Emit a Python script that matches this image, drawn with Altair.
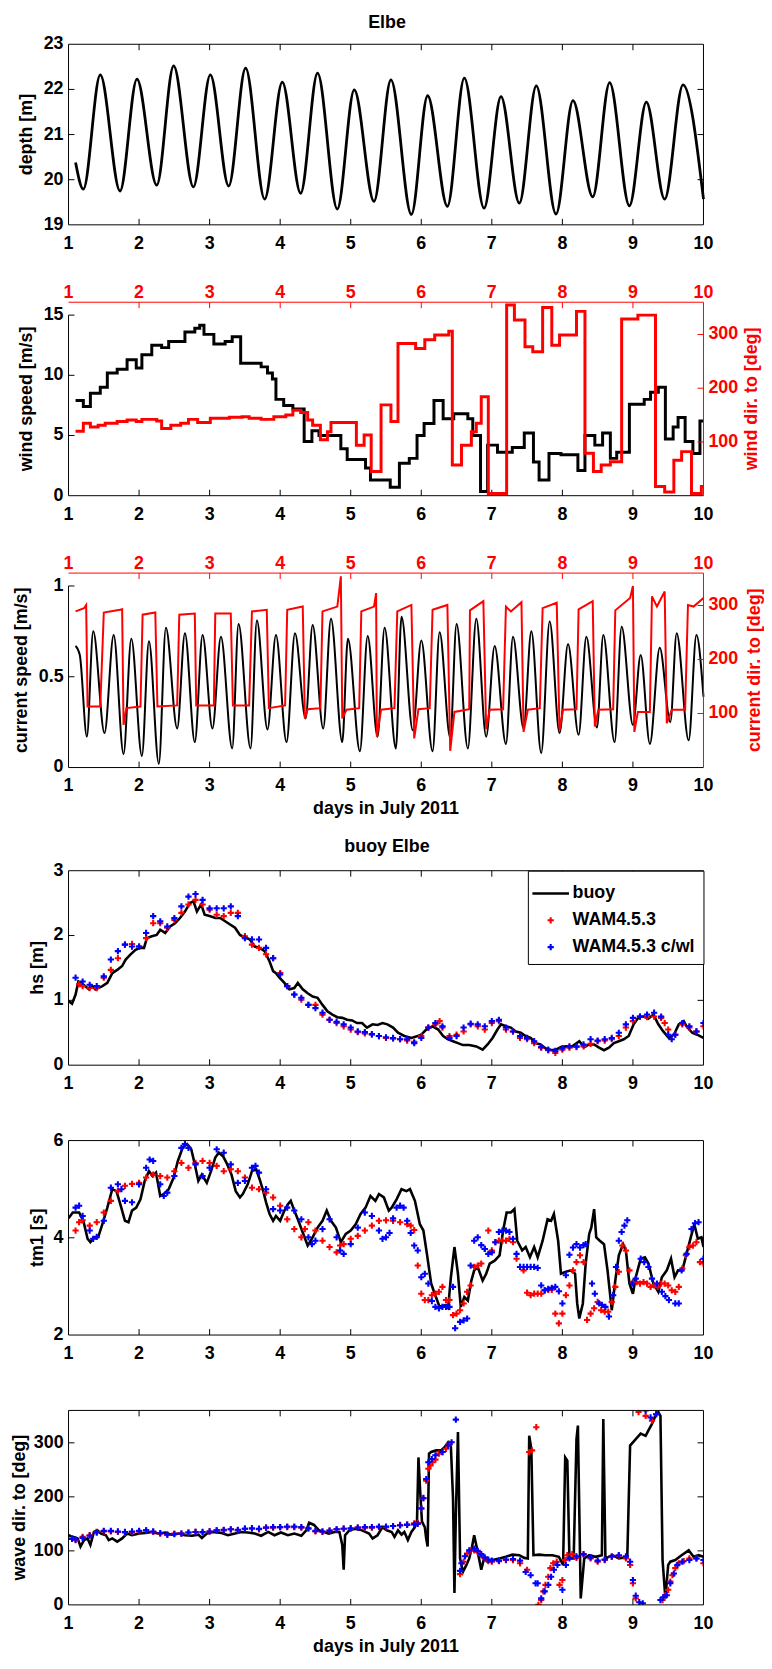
import altair as alt
import pandas as pd

# ---------------- data ----------------
depth_t = [1.10,1.21,1.45,1.73,1.97,2.25,2.49,2.77,3.01,3.27,3.51,3.78,4.03,4.29,4.53,4.81,5.05,5.33,5.57,5.86,
           6.09,6.37,6.61,6.89,7.13,7.39,7.63,7.91,8.15,8.43,8.67,8.95,9.19,9.45,9.71,10.0]
depth_v = [20.38,19.79,22.32,19.75,22.23,19.88,22.52,19.84,22.32,19.86,22.47,19.57,22.16,19.70,22.36,19.35,21.99,19.52,22.21,19.23,
           21.86,19.41,22.25,19.37,21.84,19.48,22.08,19.24,21.75,19.62,22.15,19.42,21.72,19.57,22.10,19.57]

ws_t = [1.10,1.21,1.31,1.45,1.55,1.69,1.83,1.96,2.04,2.18,2.32,2.42,2.65,2.79,2.86,2.92,3.06,3.22,3.32,3.44,
        3.73,3.82,3.89,3.94,4.05,4.18,4.34,4.45,4.55,4.86,4.95,5.21,5.28,5.56,5.69,5.83,5.94,6.04,6.18,6.31,
        6.46,6.66,6.73,6.84,6.94,7.08,7.29,7.46,7.59,7.67,7.81,7.98,8.22,8.32,8.46,8.57,8.68,8.77,8.95,9.16,
        9.25,9.36,9.46,9.57,9.64,9.74,9.85,9.95,10.0]
ws_v = [7.9,7.4,8.5,9.0,10.2,10.5,11.3,10.6,11.7,12.5,12.3,12.8,13.6,13.9,14.15,13.4,12.6,12.8,13.2,11.0,
        10.7,10.2,9.7,8.0,7.5,7.2,4.5,5.4,5.0,3.9,3.0,2.3,1.3,0.7,2.7,3.1,5.0,6.0,7.9,6.4,
        6.8,6.4,5.0,0.35,4.2,3.6,4.0,5.2,2.8,1.3,3.5,3.4,2.1,5.0,4.2,5.2,3.1,3.6,7.6,8.0,
        8.6,9.0,4.7,5.7,6.5,4.5,3.5,6.2,6.2]

wd_t = [1.10,1.21,1.31,1.42,1.52,1.69,1.83,1.96,2.04,2.25,2.32,2.45,2.59,2.70,2.83,3.01,3.28,3.46,3.56,3.73,
        3.91,4.08,4.18,4.29,4.39,4.46,4.57,4.67,4.72,5.08,5.19,5.29,5.43,5.57,5.67,5.92,6.05,6.19,6.39,6.44,
        6.57,6.71,6.78,6.85,6.95,7.21,7.32,7.47,7.58,7.72,7.85,7.96,8.20,8.32,8.44,8.55,8.68,8.84,9.07,9.32,
        9.45,9.58,9.69,9.83,9.97,10.0]
wd_v = [120,135,128,131,135,138,141,138,142,139,125,131,135,142,136,144,146,147,144,142,
        147,150,159,155,141,131,104,119,136,94,113,45,169,138,283,274,290,299,306,57,
        94,119,135,184,4,355,327,277,268,350,280,299,343,79,45,57,63,329,336,17,
        7,66,82,4,17,17]

cs_t = [1.10,1.16,1.26,1.35,1.51,1.64,1.78,1.89,2.04,2.14,2.28,2.38,2.54,2.65,2.79,2.90,3.04,3.16,3.32,3.41,
        3.58,3.67,3.82,3.94,4.09,4.21,4.36,4.46,4.61,4.72,4.88,4.96,5.13,5.24,5.38,5.48,5.64,5.72,5.88,6.00,
        6.16,6.26,6.41,6.50,6.66,6.78,6.92,7.04,7.20,7.30,7.45,7.56,7.70,7.82,7.96,8.08,8.23,8.34,8.49,8.58,
        8.74,8.84,9.00,9.11,9.24,9.38,9.53,9.62,9.79,9.90,10.0]
cs_v = [0.67,0.62,0.17,0.75,0.19,0.73,0.075,0.71,0.064,0.695,0.02,0.77,0.215,0.74,0.14,0.73,0.215,0.72,0.105,0.79,
        0.105,0.81,0.21,0.73,0.14,0.74,0.27,0.785,0.215,0.82,0.14,0.71,0.09,0.725,0.17,0.77,0.105,0.83,0.205,0.70,
        0.09,0.745,0.165,0.79,0.105,0.82,0.17,0.67,0.13,0.72,0.215,0.75,0.08,0.805,0.19,0.68,0.18,0.72,0.22,0.73,
        0.14,0.775,0.235,0.62,0.13,0.66,0.25,0.74,0.15,0.73,0.39]

cd_t = [1.10,1.22,1.25,1.27,1.45,1.50,1.73,1.76,1.78,1.82,2.02,2.05,2.23,2.26,2.54,2.57,2.79,2.81,3.06,3.08,
        3.30,3.33,3.56,3.60,3.81,3.84,4.07,4.10,4.32,4.35,4.39,4.57,4.60,4.81,4.86,4.88,4.94,5.12,5.15,5.33,
        5.36,5.37,5.43,5.62,5.66,5.86,5.90,5.96,6.12,6.16,6.37,6.41,6.47,6.68,6.69,6.88,6.92,6.97,7.16,7.20,
        7.27,7.42,7.45,7.51,7.68,7.72,7.92,7.96,8.01,8.20,8.23,8.43,8.46,8.51,8.72,8.75,8.96,9.00,9.02,9.07,
        9.24,9.27,9.34,9.45,9.48,9.55,9.74,9.78,9.86,10.0]
cd_v = [289,295,301,113,113,287,292,293,79,110,113,283,287,113,115,283,285,115,115,285,
        285,115,115,289,292,110,115,292,298,91,108,110,289,298,354,91,107,110,289,298,
        323,57,107,110,289,301,54,108,110,292,301,31,103,108,291,308,71,107,108,298,
        289,306,66,107,110,295,305,69,107,108,293,308,76,107,108,291,314,336,66,103,
        103,317,298,326,82,107,107,301,298,314]

hb_t = [1.00,1.05,1.10,1.14,1.20,1.29,1.34,1.38,1.48,1.55,1.62,1.69,1.76,1.81,1.88,1.95,2.02,2.07,2.11,2.18,
        2.25,2.30,2.37,2.44,2.51,2.58,2.65,2.72,2.77,2.82,2.88,2.93,3.00,3.08,3.15,3.22,3.29,3.36,3.43,3.50,
        3.57,3.64,3.71,3.78,3.85,3.90,3.94,3.99,4.06,4.13,4.20,4.25,4.32,4.39,4.46,4.53,4.60,4.67,4.74,4.81,
        4.88,4.95,5.02,5.09,5.16,5.23,5.31,5.38,5.45,5.52,5.60,5.67,5.76,5.86,5.95,6.00,6.07,6.16,6.24,6.31,
        6.38,6.45,6.52,6.59,6.68,6.78,6.87,6.94,7.01,7.08,7.13,7.20,7.27,7.34,7.41,7.48,7.55,7.62,7.69,7.76,
        7.84,7.91,7.98,8.05,8.14,8.24,8.31,8.38,8.45,8.52,8.59,8.66,8.73,8.80,8.87,8.94,9.01,9.08,9.15,9.22,
        9.29,9.36,9.43,9.51,9.58,9.65,9.72,9.76,9.84,9.91,10.0]
hb_v = [0.99,0.95,1.09,1.29,1.25,1.17,1.22,1.17,1.22,1.27,1.42,1.47,1.53,1.63,1.71,1.78,1.81,1.81,1.96,1.99,
        2.01,2.09,2.04,2.14,2.19,2.27,2.37,2.50,2.53,2.37,2.48,2.32,2.30,2.27,2.27,2.22,2.17,2.12,2.01,1.97,
        1.94,1.83,1.81,1.76,1.60,1.45,1.42,1.35,1.27,1.17,1.19,1.27,1.17,1.11,1.06,1.04,0.93,0.83,0.78,0.74,
        0.73,0.70,0.69,0.65,0.65,0.58,0.63,0.62,0.65,0.63,0.58,0.50,0.45,0.42,0.45,0.47,0.55,0.60,0.55,0.45,
        0.40,0.37,0.34,0.31,0.31,0.29,0.24,0.32,0.42,0.55,0.63,0.60,0.58,0.52,0.50,0.45,0.42,0.34,0.32,0.26,
        0.23,0.24,0.28,0.29,0.29,0.37,0.28,0.32,0.32,0.27,0.23,0.27,0.34,0.37,0.40,0.45,0.63,0.74,0.75,0.72,
        0.78,0.63,0.52,0.42,0.47,0.63,0.68,0.60,0.50,0.47,0.42]

hr_t = [1.15,1.20,1.30,1.40,1.50,1.60,1.70,1.80,1.90,2.00,2.10,2.20,2.30,2.40,2.50,2.60,2.70,2.80,2.90,3.00,
        3.10,3.20,3.30,3.40,3.50,3.60,3.70,3.80,3.90,4.00,4.10,4.20,4.30,4.40,4.50,4.60,4.70,4.80,4.90,5.00,
        5.10,5.20,5.30,5.40,5.50,5.60,5.70,5.80,5.90,6.00,6.10,6.20,6.26,6.30,6.40,6.50,6.60,6.70,6.80,6.90,
        7.00,7.10,7.20,7.30,7.40,7.50,7.60,7.70,7.80,7.90,8.00,8.10,8.20,8.30,8.40,8.50,8.60,8.70,8.80,8.90,
        9.00,9.10,9.20,9.30,9.40,9.45,9.50,9.60,9.70,9.80,9.90,10.0]
hr_v = [1.25,1.22,1.19,1.19,1.35,1.47,1.65,1.86,1.87,1.83,1.96,2.19,2.19,2.12,2.24,2.35,2.48,2.55,2.48,2.40,
        2.32,2.30,2.35,2.35,1.99,1.86,1.81,1.71,1.65,1.42,1.22,1.09,1.01,0.93,0.93,0.78,0.70,0.65,0.60,0.55,
        0.51,0.49,0.47,0.45,0.42,0.41,0.40,0.38,0.36,0.45,0.58,0.63,0.68,0.58,0.45,0.47,0.52,0.63,0.60,0.55,
        0.65,0.68,0.55,0.52,0.42,0.40,0.34,0.27,0.23,0.19,0.24,0.27,0.28,0.29,0.33,0.37,0.38,0.40,0.45,0.58,
        0.68,0.75,0.74,0.75,0.73,0.65,0.55,0.47,0.63,0.58,0.52,0.60]

hc_t = [1.10,1.20,1.30,1.40,1.50,1.60,1.70,1.80,1.90,2.00,2.10,2.20,2.30,2.40,2.50,2.60,2.70,2.80,2.90,3.00,
        3.10,3.20,3.30,3.40,3.50,3.60,3.70,3.80,3.90,4.00,4.10,4.20,4.30,4.40,4.50,4.60,4.70,4.80,4.90,5.00,
        5.10,5.20,5.30,5.40,5.50,5.60,5.70,5.80,5.90,6.00,6.10,6.20,6.30,6.40,6.50,6.60,6.70,6.80,6.90,7.00,
        7.10,7.20,7.30,7.40,7.50,7.60,7.70,7.80,7.90,8.00,8.10,8.20,8.30,8.40,8.50,8.60,8.70,8.80,8.90,9.00,
        9.10,9.20,9.30,9.40,9.50,9.55,9.60,9.70,9.80,9.90,10.0]
hc_v = [1.35,1.29,1.24,1.22,1.37,1.63,1.76,1.86,1.83,1.83,2.04,2.30,2.22,2.14,2.27,2.45,2.60,2.64,2.55,2.42,
        2.42,2.42,2.45,2.30,1.96,1.94,1.94,1.81,1.65,1.40,1.22,1.09,1.04,0.93,0.88,0.81,0.70,0.67,0.63,0.58,
        0.52,0.51,0.48,0.45,0.43,0.42,0.40,0.40,0.34,0.42,0.58,0.65,0.60,0.42,0.45,0.58,0.64,0.63,0.60,0.68,
        0.70,0.58,0.52,0.45,0.42,0.37,0.28,0.24,0.22,0.26,0.29,0.29,0.32,0.40,0.38,0.40,0.42,0.50,0.63,0.73,
        0.75,0.78,0.81,0.75,0.47,0.40,0.47,0.65,0.60,0.52,0.65]

tb_t = [1.00,1.06,1.15,1.21,1.27,1.31,1.36,1.42,1.48,1.55,1.62,1.68,1.74,1.80,1.85,1.90,1.96,2.02,2.08,2.14,
        2.19,2.24,2.30,2.35,2.42,2.49,2.55,2.62,2.68,2.74,2.79,2.84,2.89,2.96,3.02,3.08,3.13,3.19,3.25,3.31,
        3.37,3.43,3.47,3.54,3.60,3.66,3.71,3.76,3.80,3.85,3.90,3.94,4.00,4.06,4.11,4.15,4.20,4.25,4.32,4.39,
        4.46,4.53,4.60,4.66,4.72,4.79,4.86,4.93,5.00,5.07,5.14,5.21,5.28,5.35,5.40,5.47,5.54,5.58,5.65,5.72,
        5.79,5.84,5.91,5.98,6.03,6.08,6.14,6.19,6.26,6.33,6.38,6.42,6.47,6.52,6.56,6.61,6.66,6.71,6.75,6.80,
        6.87,6.92,6.97,7.04,7.11,7.16,7.21,7.27,7.32,7.36,7.43,7.48,7.54,7.60,7.65,7.72,7.79,7.84,7.88,7.94,
        7.98,8.05,8.12,8.18,8.21,8.24,8.29,8.33,8.38,8.41,8.45,8.48,8.53,8.59,8.64,8.70,8.75,8.80,8.86,8.90,
        8.95,9.00,9.04,9.11,9.17,9.22,9.29,9.36,9.41,9.48,9.54,9.59,9.64,9.70,9.76,9.82,9.87,9.92,9.97,10.0]
tb_v = [4.40,4.52,4.52,4.35,3.98,3.91,4.01,4.01,4.28,4.62,5.00,4.96,4.66,4.35,4.32,4.56,4.62,4.79,5.17,5.37,
        5.27,5.34,4.86,4.90,5.00,5.24,5.58,5.86,5.93,5.82,5.51,5.17,5.30,5.13,5.37,5.65,5.75,5.68,5.51,5.30,
        4.96,4.83,4.90,5.10,5.37,5.41,5.20,4.96,4.73,4.49,4.35,4.45,4.35,4.56,4.69,4.76,4.56,4.38,4.11,3.84,
        4.01,4.21,4.35,4.56,4.35,4.21,3.91,4.08,4.15,4.28,4.49,4.62,4.86,4.76,4.90,4.83,4.56,4.62,4.79,5.00,
        4.96,5.00,4.76,4.28,4.15,3.67,3.06,2.85,2.58,2.61,2.55,3.19,3.81,3.26,2.58,2.78,2.71,3.12,3.33,3.40,
        3.12,3.26,3.47,3.53,3.64,4.15,4.52,4.52,4.59,3.94,3.74,3.81,3.60,3.81,3.60,3.94,4.38,4.35,4.49,3.94,
        3.26,3.30,3.33,3.26,2.65,2.34,2.65,3.47,4.08,4.21,4.59,4.01,3.94,3.87,3.33,2.51,3.12,3.64,3.87,3.74,
        3.06,2.85,3.19,3.57,3.60,3.47,3.06,2.89,3.19,3.33,3.57,3.19,3.33,3.33,3.67,4.01,4.28,3.98,4.01,3.81]

tr_t = [1.10,1.15,1.20,1.30,1.40,1.50,1.60,1.70,1.80,1.90,2.00,2.10,2.20,2.30,2.40,2.50,2.60,2.70,2.80,2.90,
        3.00,3.10,3.20,3.30,3.40,3.50,3.60,3.70,3.80,3.90,4.00,4.10,4.20,4.30,4.35,4.40,4.50,4.60,4.70,4.80,
        4.85,4.90,5.00,5.10,5.20,5.30,5.40,5.50,5.60,5.70,5.80,5.85,5.90,5.95,6.00,
        6.05,6.10,6.15,6.20,6.25,6.30,6.35,6.40,6.45,6.50,6.55,6.60,6.65,6.70,6.75,6.80,6.85,6.90,6.95,7.00,
        7.05,7.10,7.15,7.20,7.25,7.30,7.35,7.40,7.45,7.50,7.55,7.60,7.65,7.70,7.75,7.80,7.85,7.90,7.95,8.00,
        8.05,8.10,8.15,8.20,8.25,8.30,8.35,8.40,8.45,8.50,8.55,8.60,8.65,8.70,8.75,8.80,8.85,8.90,8.95,9.00,
        9.05,9.10,9.15,9.20,9.25,9.30,9.35,9.40,9.45,9.50,9.55,9.60,9.65,9.70,9.75,9.80,9.85,9.90,9.95,10.0]
tr_v = [4.15,4.32,4.36,4.25,4.32,4.52,4.76,4.96,5.07,5.11,5.13,5.24,5.30,5.27,5.24,5.37,5.54,5.44,5.54,5.58,
        5.54,5.48,5.37,5.41,5.37,5.24,5.03,5.00,4.93,4.83,4.66,4.38,4.18,4.01,4.18,4.32,4.15,3.94,3.81,3.70,
        3.84,3.87,3.98,4.04,4.15,4.25,4.35,4.36,4.35,4.32,4.28,4.25,4.16,3.43,2.85,
        2.72,2.72,2.82,2.85,2.89,2.99,2.72,2.72,2.41,2.44,2.51,2.65,2.89,3.02,3.40,3.43,3.47,3.77,4.15,3.74,
        3.91,3.94,3.94,3.94,3.98,3.91,3.57,3.40,3.33,2.87,2.82,2.85,2.85,2.85,2.92,2.93,2.93,2.44,2.24,2.44,
        2.82,3.02,3.33,3.50,3.64,3.50,2.31,2.44,2.55,2.68,2.51,2.48,2.48,2.68,2.99,3.30,3.84,3.74,3.33,3.09,
        3.09,3.06,3.09,3.06,2.99,3.02,2.99,3.06,3.06,3.02,2.92,2.89,2.99,3.37,3.64,3.81,3.84,3.91,3.50,3.47]

tc_t = [1.10,1.15,1.20,1.30,1.35,1.40,1.50,1.60,1.70,1.75,1.80,1.90,2.00,2.10,2.15,2.20,2.30,2.35,2.40,2.50,
        2.60,2.65,2.70,2.80,2.90,3.00,3.10,3.20,3.30,3.40,3.50,3.60,3.65,3.70,3.80,3.90,4.00,4.10,4.20,4.30,
        4.40,4.45,4.50,4.60,4.70,4.80,4.85,4.90,5.00,5.10,5.20,5.30,5.40,5.45,5.50,5.55,5.60,5.65,5.70,5.75,
        5.80,5.85,5.90,5.95,6.00,6.05,6.10,6.15,6.20,6.25,6.30,6.35,6.40,6.45,6.48,6.55,6.60,6.65,6.70,6.75,
        6.80,6.85,6.90,6.95,7.00,7.05,7.10,7.15,7.20,7.25,7.30,7.35,7.40,7.45,7.50,7.55,7.60,7.65,7.70,7.75,
        7.80,7.85,7.90,7.95,8.00,8.05,8.10,8.15,8.20,8.25,8.30,8.33,8.42,8.46,8.52,8.56,8.61,8.66,8.72,8.76,
        8.80,8.84,8.88,8.92,8.99,9.04,9.11,9.16,9.22,9.27,9.34,9.41,9.46,9.51,9.60,9.65,9.69,9.76,9.83,9.88,
        9.93,10.0]
tc_v = [4.62,4.66,4.45,4.15,3.98,4.02,4.35,5.03,5.10,5.00,4.76,4.73,5.10,5.44,5.61,5.58,5.10,4.86,4.93,5.27,
        5.85,5.93,5.85,5.51,5.27,5.44,5.82,5.75,5.51,5.13,5.17,5.44,5.48,5.34,5.00,4.59,4.56,4.62,4.56,4.38,
        4.01,3.87,3.94,4.18,4.38,4.01,3.74,3.67,3.87,4.21,4.52,4.45,4.15,3.98,4.01,4.10,4.40,4.62,4.66,4.62,
        4.35,4.10,3.84,3.74,3.19,3.26,3.06,2.70,2.58,2.55,2.58,2.58,2.58,2.99,2.14,2.27,2.30,2.34,3.43,3.94,
        4.01,3.85,3.77,3.67,3.70,3.91,4.12,4.15,4.15,4.12,3.98,3.67,3.40,3.40,3.40,3.40,3.40,3.38,3.02,2.92,
        2.95,2.97,2.99,2.90,2.65,3.23,3.65,3.80,3.87,3.80,3.85,3.87,3.06,2.85,2.65,2.62,2.58,2.38,2.82,3.40,
        3.94,4.12,4.25,4.36,3.06,3.16,3.57,3.50,3.40,3.16,3.06,2.89,2.80,2.72,2.65,2.65,3.33,3.67,4.18,4.30,
        4.32,3.57]

wb_t = [1.00,1.06,1.13,1.17,1.22,1.27,1.31,1.36,1.41,1.46,1.53,1.57,1.62,1.69,1.76,1.83,1.90,2.00,2.09,2.18,
        2.28,2.37,2.46,2.56,2.65,2.75,2.84,2.89,2.96,3.05,3.17,3.26,3.36,3.45,3.54,3.64,3.73,3.83,3.92,4.01,
        4.11,4.20,4.30,4.37,4.41,4.48,4.55,4.62,4.69,4.77,4.84,4.88,4.90,4.92,4.98,5.07,5.16,5.26,5.31,5.38,
        5.45,5.51,5.58,5.62,5.67,5.72,5.76,5.81,5.86,5.91,5.94,5.96,5.99,6.01,6.05,6.07,6.09,6.11,6.14,6.21,
        6.28,6.33,6.38,6.42,6.45,6.47,6.49,6.52,6.55,6.59,6.64,6.68,6.72,6.75,6.80,6.85,6.89,6.94,7.01,7.11,
        7.20,7.29,7.39,7.46,7.51,7.53,7.56,7.59,7.67,7.76,7.86,7.95,8.01,8.04,8.07,8.10,8.16,8.20,8.22,8.26,
        8.31,8.38,8.47,8.56,8.58,8.61,8.71,8.80,8.92,8.96,9.04,9.11,9.18,9.22,9.27,9.32,9.36,9.39,9.42,9.46,
        9.50,9.53,9.60,9.69,9.79,9.86,9.93,10.0]
wb_v = [129,126,123,108,120,123,111,135,138,132,129,120,123,117,123,132,129,132,133,135,
        132,134,130,132,129,128,130,124,132,135,133,129,132,135,134,132,128,135,129,134,
        129,132,128,138,152,148,138,135,132,135,135,111,65,129,138,141,138,132,123,129,
        144,138,135,126,138,130,135,120,135,144,157,273,197,154,144,123,108,280,283,286,
        286,292,301,292,197,22,166,320,86,61,74,86,108,129,98,65,86,80,83,86,
        89,93,92,87,86,313,289,92,93,92,92,89,74,273,267,86,86,307,332,12,
        86,92,89,92,344,86,92,86,89,295,307,317,313,323,335,350,357,350,83,12,
        74,80,83,92,101,89,92,89]

wr_t = [1.05,1.10,1.20,1.30,1.40,1.50,1.60,1.70,1.80,1.90,2.00,2.10,2.20,2.30,2.40,2.50,2.60,2.70,2.80,2.90,
        3.00,3.10,3.20,3.30,3.40,3.50,3.60,3.70,3.80,3.90,4.00,4.10,4.20,4.30,4.40,4.50,4.60,4.70,4.80,4.90,
        5.00,5.10,5.20,5.30,5.40,5.50,5.60,5.70,5.80,5.90,5.95,6.00,6.03,6.07,6.10,6.13,6.16,6.20,6.25,6.30,
        6.35,6.40,6.55,6.60,6.65,6.70,6.75,6.80,6.85,6.90,6.95,7.00,7.10,7.20,7.30,7.40,7.50,7.53,7.57,7.63,
        7.66,7.70,7.73,7.76,7.80,7.83,7.87,7.92,7.96,8.00,8.04,8.07,8.14,8.20,8.30,8.40,8.50,8.60,8.70,8.80,
        8.90,8.96,9.00,9.04,9.08,9.18,9.27,9.33,9.42,9.46,9.50,9.53,9.56,9.60,9.65,9.72,9.80,9.90,10.0]
wr_v = [123,120,126,129,135,136,136,135,134,135,136,138,135,132,130,132,132,134,135,134,
        136,138,138,140,138,141,141,140,143,143,144,144,144,143,141,136,135,138,140,141,
        141,143,143,143,144,144,146,148,149,151,152,178,197,230,252,258,264,269,280,283,
        289,298,57,80,95,101,101,98,92,86,81,80,81,83,83,77,65,283,286,329,
        0,9,25,37,52,68,77,80,37,46,83,92,94,87,93,86,80,83,89,91,
        86,74,40,12,357,350,341,353,9,18,28,43,55,68,77,81,86,86,77]

wc_t = [1.05,1.10,1.20,1.30,1.40,1.50,1.60,1.70,1.80,1.90,2.00,2.10,2.20,2.30,2.40,2.50,2.60,2.70,2.80,2.90,
        3.00,3.10,3.20,3.30,3.40,3.50,3.60,3.70,3.80,3.90,4.00,4.10,4.20,4.30,4.40,4.50,4.60,4.70,4.80,4.90,
        5.00,5.10,5.20,5.30,5.40,5.50,5.60,5.70,5.80,5.90,5.95,6.00,6.03,6.07,6.10,6.15,6.20,6.30,6.38,6.43,
        6.49,6.55,6.57,6.62,6.68,6.75,6.80,6.85,6.90,6.95,7.00,7.10,7.20,7.30,7.40,7.48,7.55,7.62,7.65,7.70,
        7.75,7.80,7.84,7.88,7.93,8.00,8.05,8.10,8.20,8.30,8.40,8.50,8.60,8.70,8.80,8.90,8.96,9.00,9.04,9.09,
        9.14,9.18,9.25,9.33,9.39,9.43,9.48,9.53,9.58,9.63,9.70,9.80,9.90,10.0]
wc_v = [122,121,124,128,134,137,137,136,135,136,137,138,136,133,130,131,132,134,135,135,
        136,138,139,140,139,141,142,141,143,144,144,145,145,144,142,137,136,137,140,141,
        142,143,144,144,145,145,146,147,148,149,150,179,198,233,264,270,277,283,295,301,
        343,63,77,90,101,104,100,94,88,84,82,82,84,85,82,61,55,40,40,12,
        25,37,52,65,74,28,74,86,90,94,88,82,84,90,92,90,80,46,17,5,
        3,360,347,353,9,14,18,40,58,74,80,83,86,83]

x_ticks = [1, 2, 3, 4, 5, 6, 7, 8, 9, 10]
names = ["buoy", "WAM4.5.3", "WAM4.5.3 c/wl"]

# ---------------- styling helpers ----------------
W = 640
FONT = "Liberation Sans"
FS = 18
RED = "#ff0000"
BLUE = "#0000ff"
TL = 6
XS = alt.Scale(domain=[1, 10], nice=False, zero=False)
XIN = x_ticks[1:-1]
LINE_PATH = "M-1.23,-0.09H1.23V0.09H-1.23Z"
PLUS_PATH = "M-0.07,-0.21H0.07V-0.07H0.21V0.07H0.07V0.21H-0.07V0.07H-0.21V-0.07H-0.07Z"


def series(t, v):
    n = min(len(t), len(v))
    return pd.DataFrame({"t": t[:n], "v": v[:n]})


def vals(v):
    return pd.DataFrame({"v": v})


def txt(**kw):
    base = dict(font=FONT, fontSize=FS, fontWeight="bold")
    base.update(kw)
    return base


def hrule(y, color="black"):
    return alt.Chart(vals([0])).mark_rule(color=color, strokeWidth=1).encode(
        x=alt.value(0), x2=alt.value(W), y=alt.value(y))


def vrule(x, h, color="black"):
    return alt.Chart(vals([0])).mark_rule(color=color, strokeWidth=1).encode(
        x=alt.value(x), y=alt.value(0), y2=alt.value(h))


def xticks(h, color, where):
    y0, y1 = (h - TL, h) if where == "bottom" else (0, TL)
    return alt.Chart(vals(XIN)).mark_rule(color=color, strokeWidth=1).encode(
        x=alt.X("v:Q", scale=XS, axis=None), y=alt.value(y0), y2=alt.value(y1))


def yticks(v, ys, color, where):
    x0, x1 = (0, TL) if where == "left" else (W - TL, W)
    return alt.Chart(vals(v)).mark_rule(color=color, strokeWidth=1).encode(
        y=alt.Y("v:Q", scale=ys, axis=None), x=alt.value(x0), x2=alt.value(x1))


def xlabels(h, color="black", where="bottom"):
    if where == "bottom":
        mk = txt(color=color, align="center", baseline="top")
        yv = alt.value(h + 10)
    else:
        mk = txt(color=color, align="center", baseline="alphabetic")
        yv = alt.value(-4)
    return alt.Chart(vals(x_ticks)).mark_text(**mk).encode(
        x=alt.X("v:Q", scale=XS, axis=None), y=yv, text=alt.Text("v:Q", format="~g"))


def ylabels(v, ys, color="black", where="left"):
    if where == "left":
        mk = txt(color=color, align="right", baseline="middle")
        xv = alt.value(-5)
    else:
        mk = txt(color=color, align="left", baseline="middle")
        xv = alt.value(W + 5)
    return alt.Chart(vals(v)).mark_text(**mk).encode(
        y=alt.Y("v:Q", scale=ys, axis=None), x=xv, text=alt.Text("v:Q", format="~g"))


def ytitle(text, h, xpos, color="black"):
    return alt.Chart(pd.DataFrame({"s": [text]})).mark_text(
        **txt(color=color, align="center", baseline="middle", angle=270)).encode(
        text="s:N", x=alt.value(xpos), y=alt.value(h / 2))


def xtitle(text, h):
    return alt.Chart(pd.DataFrame({"s": [text]})).mark_text(
        **txt(color="black", align="center", baseline="top")).encode(
        text="s:N", x=alt.value(W / 2), y=alt.value(h + 33))


def ctitle(text, ypos):
    return alt.Chart(pd.DataFrame({"s": [text]})).mark_text(
        **txt(color="black", align="center", baseline="alphabetic")).encode(
        text="s:N", x=alt.value(W / 2 + 1), y=alt.value(ypos))


def box(h):
    return [hrule(0), hrule(h), vrule(0, h), vrule(W, h)]


# ---------------- panel 1: depth ----------------
h1 = 182
ys1 = alt.Scale(domain=[19, 23], nice=False, zero=False)
p1 = alt.layer(
    alt.Chart(series(depth_t, depth_v)).mark_line(color="black", strokeWidth=2.8, interpolate="monotone").encode(
        x=alt.X("t:Q", scale=XS, axis=None), y=alt.Y("v:Q", scale=ys1, axis=None)),
    xticks(h1, "black", "bottom"), xticks(h1, "black", "top"),
    yticks([20, 21, 22], ys1, "black", "left"), yticks([20, 21, 22], ys1, "black", "right"),
    *box(h1),
    xlabels(h1), ylabels([19, 20, 21, 22, 23], ys1),
    ytitle("depth [m]", h1, -42), ctitle("Elbe", -16),
).properties(width=W, height=h1)


# ---------------- panels 2/3: dual axes ----------------
def dual(h, left_df, left_dom, left_vals, left_top, left_title, left_tx, left_interp, left_w,
         right_df, right_interp, right_title, right_tx, right_w, xt=None):
    ysl = alt.Scale(domain=left_dom, nice=False, zero=False)
    ysr = alt.Scale(domain=[0, 360], nice=False, zero=False)
    left_layers = [
        alt.Chart(left_df).mark_line(color="black", strokeWidth=left_w, interpolate=left_interp).encode(
            x=alt.X("t:Q", scale=XS, axis=None), y=alt.Y("v:Q", scale=ysl, axis=None)),
        alt.Chart(pd.DataFrame({"a": [0], "b": [left_top]})).mark_rule(color="black", strokeWidth=1).encode(
            x=alt.value(0), y=alt.Y("a:Q", scale=ysl, axis=None), y2="b:Q"),
        xticks(h, "black", "bottom"),
        yticks(left_vals[1:], ysl, "black", "left"),
        ylabels(left_vals, ysl),
        xlabels(h),
        hrule(h),
        ytitle(left_title, h, left_tx),
    ]
    if xt:
        left_layers.append(xtitle(xt, h))
    left = alt.layer(*left_layers)
    right = alt.layer(
        alt.Chart(right_df).mark_line(color=RED, strokeWidth=right_w, interpolate=right_interp).encode(
            x=alt.X("t:Q", scale=XS, axis=None), y=alt.Y("v:Q", scale=ysr, axis=None)),
        xticks(h, RED, "top"),
        yticks([100, 200, 300], ysr, RED, "right"),
        ylabels([100, 200, 300], ysr, RED, "right"),
        xlabels(h, RED, "top"),
        hrule(0, RED),
        vrule(W, h, RED),
        ytitle(right_title, h, right_tx, RED),
    )
    return alt.layer(left, right).resolve_scale(y="independent").properties(width=W, height=h)


p2 = dual(195, series(ws_t, ws_v), [0, 16.07], [0, 5, 10, 15], 15, "wind speed [m/s]", -42, "step-after", 3,
          series(wd_t, wd_v), "step-after", "wind dir. to [deg]", W + 49, 3)
p3 = dual(196, series(cs_t, cs_v), [0, 1.071], [0, 0.5, 1], 1, "current speed [m/s]", -47, "monotone", 2,
          series(cd_t, cd_v), "linear", "current dir. to [deg]", W + 52, 2, xt="days in July 2011")

# ---------------- panels 4-6: buoy vs model ----------------
LEG = alt.Legend(orient="top-right", offset=0, title=None, strokeColor="black", fillColor="white",
                 padding=8, rowPadding=3, symbolSize=900, symbolStrokeWidth=0, labelFont=FONT,
                 labelFontSize=FS, labelFontWeight="bold", labelOffset=7, labelColor="black",
                 symbolOpacity=1, cornerRadius=0)


def model(h, buoy, red, blue, dom, yvals, inner, ytl, ytx, legend=False, xt=None, ttl=None):
    ys = alt.Scale(domain=dom, nice=False, zero=False)
    pts = pd.concat([series(*red).assign(s=names[1]), series(*blue).assign(s=names[2])], ignore_index=True)
    cs = alt.Scale(domain=names, range=["black", RED, BLUE])
    ss = alt.Scale(domain=names, range=[LINE_PATH, PLUS_PATH, PLUS_PATH])
    leg = LEG if legend else None
    layers = [
        alt.Chart(series(*buoy)).mark_line(color="black", strokeWidth=2.6, clip=True).encode(
            x=alt.X("t:Q", scale=XS, axis=None), y=alt.Y("v:Q", scale=ys, axis=None)),
        alt.Chart(pts).mark_point(filled=True, opacity=1, size=900, strokeWidth=0, clip=True).encode(
            x=alt.X("t:Q", scale=XS, axis=None),
            y=alt.Y("v:Q", scale=ys, axis=None),
            color=alt.Color("s:N", scale=cs, legend=leg),
            shape=alt.Shape("s:N", scale=ss, legend=leg)),
        xticks(h, "black", "bottom"), xticks(h, "black", "top"),
        yticks(inner, ys, "black", "left"), yticks(inner, ys, "black", "right"),
        *box(h),
        xlabels(h), ylabels(yvals, ys),
        ytitle(ytl, h, ytx),
    ]
    if xt:
        layers.append(xtitle(xt, h))
    if ttl:
        layers.append(ctitle(ttl, -19))
    return alt.layer(*layers).properties(width=W, height=h)


p4 = model(196, (hb_t, hb_v), (hr_t, hr_v), (hc_t, hc_v), [0, 3], [0, 1, 2, 3], [1, 2], "hs [m]", -31,
           legend=True, ttl="buoy Elbe")
p5 = model(196, (tb_t, tb_v), (tr_t, tr_v), (tc_t, tc_v), [2, 6], [2, 4, 6], [4], "tm1 [s]", -31)
p6 = model(196, (wb_t, wb_v), (wr_t, wr_v), (wc_t, wc_v), [0, 360], [0, 100, 200, 300], [100, 200, 300],
           "wave dir. to [deg]", -49, xt="days in July 2011")

top = alt.vconcat(p1, p2, p3, spacing=78, bounds="flush")
bottom = alt.vconcat(p4, p5, p6, spacing=76, bounds="flush").resolve_scale(color="independent", shape="independent")

chart = alt.vconcat(top, bottom, spacing=20).resolve_scale(
    color="independent", shape="independent"
).properties(padding={"left": 3, "top": 0, "right": 0, "bottom": 0}).configure_view(strokeWidth=0)

chart.save("out.html", embed_options={"renderer": "svg", "actions": False})
